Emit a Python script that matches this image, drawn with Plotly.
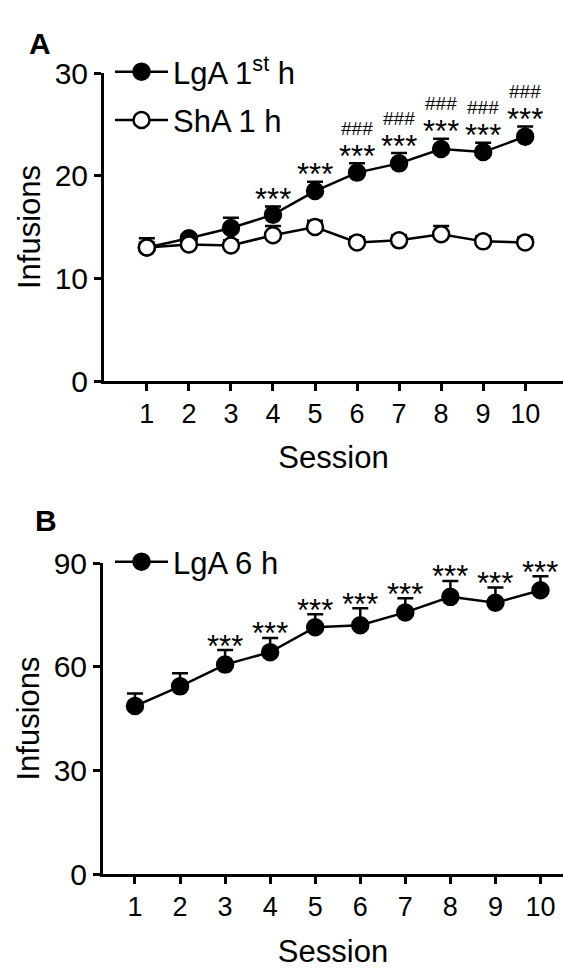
import plotly.graph_objects as go

FONT = "Liberation Sans, Arial, sans-serif"
W, H = 563, 969

sessions = [1, 2, 3, 4, 5, 6, 7, 8, 9, 10]

# Panel A - infusions in the first hour
lga_1h_mean = [13.0, 13.9, 14.9, 16.2, 18.5, 20.3, 21.2, 22.6, 22.3, 23.8]
lga_1h_sem = [0.9, 0.4, 1.0, 0.8, 0.9, 0.9, 1.0, 1.0, 0.9, 1.0]
sha_1h_mean = [13.0, 13.3, 13.2, 14.2, 15.0, 13.5, 13.7, 14.3, 13.6, 13.5]
sha_1h_sem = [0.5, 0.4, 0.5, 0.9, 0.6, 0.5, 0.5, 0.8, 0.5, 0.5]
stars_a = ["", "", "", "***", "***", "***", "***", "***", "***", "***"]
hash_a = ["", "", "", "", "", "###", "###", "###", "###", "###"]

# Panel B - infusions over 6 h
lga_6h_mean = [48.6, 54.3, 60.6, 64.2, 71.4, 72.0, 75.7, 80.2, 78.5, 82.1]
lga_6h_sem = [3.6, 3.8, 4.2, 4.1, 3.8, 4.9, 4.1, 4.6, 4.4, 4.1]
stars_b = ["", "", "***", "***", "***", "***", "***", "***", "***", "***"]


def px_x(p):
    return p / W


def px_y(p):
    return 1 - p / H


def group_trace(x, mean, sem, name, filled, xa, ya, legend, group):
    return go.Scatter(
        x=x, y=mean, name=name, mode="lines+markers",
        xaxis=xa, yaxis=ya, legend=legend, legendgroup=group,
        line=dict(color="black", width=2.5),
        marker=dict(size=16, symbol="circle",
                    color="black" if filled else "white",
                    line=dict(color="black", width=2.5)),
        error_y=dict(type="data", array=sem, arrayminus=[0] * len(sem),
                     color="black", thickness=2.5, width=8),
    )


fig = go.Figure()
fig.add_trace(group_trace(sessions, lga_1h_mean, lga_1h_sem,
                          "LgA 1<sup>st</sup> h", True, "x", "y", "legend", "lga1"))
fig.add_trace(group_trace(sessions, sha_1h_mean, sha_1h_sem,
                          "ShA 1 h", False, "x", "y", "legend", "sha1"))
fig.add_trace(group_trace(sessions, lga_6h_mean, lga_6h_sem,
                          "LgA 6 h", True, "x2", "y2", "legend2", "lga6"))

# significance marks sit just above the error bar caps
for s, m, e, st, hs in zip(sessions, lga_1h_mean, lga_1h_sem, stars_a, hash_a):
    if st:
        fig.add_annotation(x=s, y=m + e, xref="x", yref="y", text=st,
                           showarrow=False, yanchor="middle", yshift=7,
                           font=dict(size=31, family=FONT, color="black"))
    if hs:
        fig.add_annotation(x=s, y=m + e, xref="x", yref="y", text=hs,
                           showarrow=False, yanchor="middle", yshift=35,
                           font=dict(size=19, family=FONT, color="black"))
for s, m, e, st in zip(sessions, lga_6h_mean, lga_6h_sem, stars_b):
    if st:
        fig.add_annotation(x=s, y=m + e, xref="x2", yref="y2", text=st,
                           showarrow=False, yanchor="middle", yshift=4,
                           font=dict(size=31, family=FONT, color="black"))

# Panel letters
fig.add_annotation(x=px_x(27), y=px_y(25), xref="paper", yref="paper",
                   text="<b>A</b>", showarrow=False,
                   font=dict(size=30, family=FONT, color="black"))
fig.add_annotation(x=px_x(33), y=px_y(520), xref="paper", yref="paper",
                   text="<b>B</b>", showarrow=False,
                   font=dict(size=30, family=FONT, color="black"))

axis_common = dict(showline=True, linewidth=3, linecolor="black",
                   ticks="outside", ticklen=7, tickwidth=3, tickcolor="black",
                   showgrid=False, zeroline=False, automargin=False)

fig.update_layout(
    width=W, height=H,
    margin=dict(l=0, r=0, t=0, b=0),
    paper_bgcolor="white", plot_bgcolor="white",
    font=dict(family=FONT, color="black"),
    showlegend=True,
    xaxis=dict(axis_common, domain=[px_x(104), 1], range=[-0.02, 10.9],
               tickvals=sessions, tickfont=dict(size=27),
               title=dict(text="Session", font=dict(size=31), standoff=18),
               anchor="y"),
    yaxis=dict(axis_common, domain=[px_y(381), px_y(73)], range=[0, 30],
               tickvals=[0, 10, 20, 30], tickfont=dict(size=30),
               title=dict(text="Infusions", font=dict(size=31), standoff=5),
               anchor="x"),
    xaxis2=dict(axis_common, domain=[px_x(103), 1], range=[0.29, 10.5],
                tickvals=sessions, tickfont=dict(size=27),
                title=dict(text="Session", font=dict(size=31), standoff=20),
                anchor="y2"),
    yaxis2=dict(axis_common, domain=[px_y(874), px_y(563)], range=[0, 90],
                tickvals=[0, 30, 60, 90], tickfont=dict(size=30),
                title=dict(text="Infusions", font=dict(size=31), standoff=5),
                anchor="x2"),
    legend=dict(x=px_x(110), y=px_y(45), xanchor="left", yanchor="top",
                font=dict(size=31), itemwidth=53, tracegroupgap=5,
                bgcolor="rgba(0,0,0,0)"),
    legend2=dict(x=px_x(110), y=px_y(535), xanchor="left", yanchor="top",
                 font=dict(size=31), itemwidth=53,
                 bgcolor="rgba(0,0,0,0)"),
)

# the page body has a default 8px margin; drop it so the figure fills the window
fig.write_html("out.html", config={"displayModeBar": False},
               post_script="document.body.style.margin='0';")
